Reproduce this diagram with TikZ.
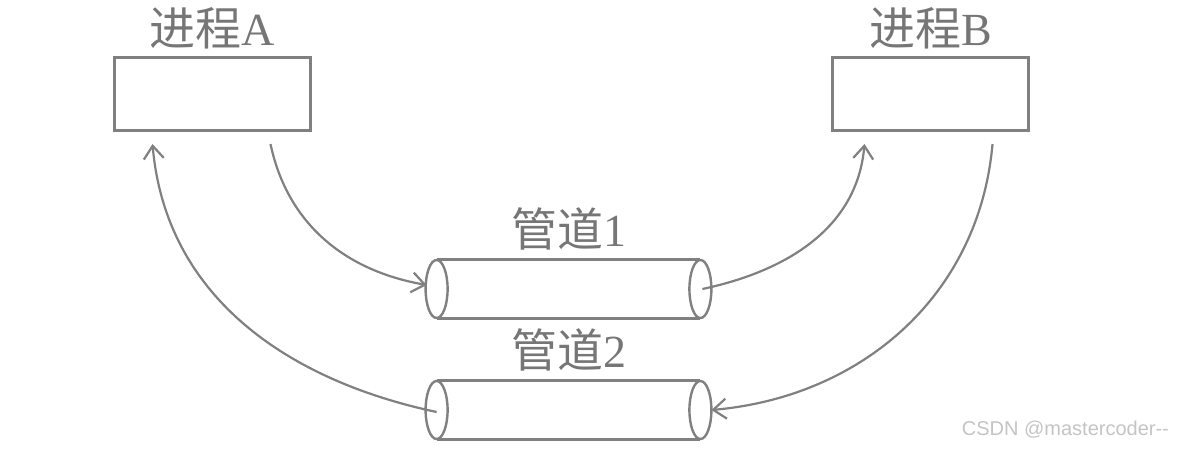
\documentclass[tikz,border=0pt]{standalone}
\usepackage{fontspec}
\setmainfont{Liberation Serif}
\newfontfamily\cjk{Noto Sans CJK SC}
\newfontfamily\marksans{Liberation Sans}
\usetikzlibrary{arrows.meta,positioning}
\definecolor{LineGray}{RGB}{128,128,128}
\definecolor{TextGray}{RGB}{118,118,118}
\definecolor{MarkGray}{RGB}{196,196,196}

\begin{document}
\begin{tikzpicture}[x=0.5pt,y=-0.5pt,
    proc/.style={draw=LineGray,line width=1.5pt,minimum width=98pt,minimum height=36.5pt,inner sep=0pt},
    pipebody/.style={minimum width=131.5pt,minimum height=29pt,inner sep=0pt},
    pipeline/.style={draw=LineGray,line width=1.2pt},
    lbl/.style={text=TextGray,inner sep=0pt,font=\fontsize{23}{23}\selectfont},
    flow/.style={draw=LineGray,line width=1.1pt,-{Straight Barb[length=6.5pt,width=10pt,line width=1.1pt]}}]
  \useasboundingbox (0,0) rectangle (1188,450);
  \node[proc] (A) at (212.5,94) {};
  \node[proc] (B) at (930.5,94) {};
  \node[lbl,above=3.5pt of A] (la) {\cjk 进程\rmfamily A};
  \node[lbl,above=3.5pt of B] (lb) {\cjk 进程\rmfamily B};
  \node[pipebody] (p1) at (568.5,289) {};
  \node[pipebody] (p2) at (568.5,410) {};
  \node[lbl,above=4.5pt of p1] (l1) {\cjk 管道\rmfamily 1};
  \node[lbl,above=4.5pt of p2] (l2) {\cjk 管道\rmfamily 2};
  \foreach \p in {p1,p2}{
    \draw[pipeline] (\p.north west) -- (\p.north east) (\p.south west) -- (\p.south east);
    \draw[pipeline,fill=white] (\p.west) ellipse [x radius=5.5pt,y radius=14.5pt];
    \draw[pipeline] (\p.east) ellipse [x radius=5.5pt,y radius=14.5pt];
  }
  \coordinate (a1) at ([shift={(29pt,-6pt)}]A.south);
  \coordinate (a2) at ([shift={(-30pt,-6pt)}]A.south);
  \coordinate (b1) at ([shift={(-33pt,-6pt)}]B.south);
  \coordinate (b2) at ([shift={(31pt,-6pt)}]B.south);
  \draw[flow] (a1) to[out=-78,in=170] ([shift={(-5pt,2pt)}]p1.west);
  \draw[flow] ([xshift=1pt]p1.east) to[out=12,in=-95] (b1);
  \draw[flow] (b2) to[out=-95,in=5] ([shift={(5.5pt,0pt)}]p2.east);
  \draw[flow] ([yshift=-1pt]p2.west) to[out=168,in=-85] (a2);
  \node[text=MarkGray,font=\marksans\fontsize{10}{10}\selectfont,anchor=east] (mark) at (1176,430) {CSDN @mastercoder--};
\end{tikzpicture}
\end{document}
